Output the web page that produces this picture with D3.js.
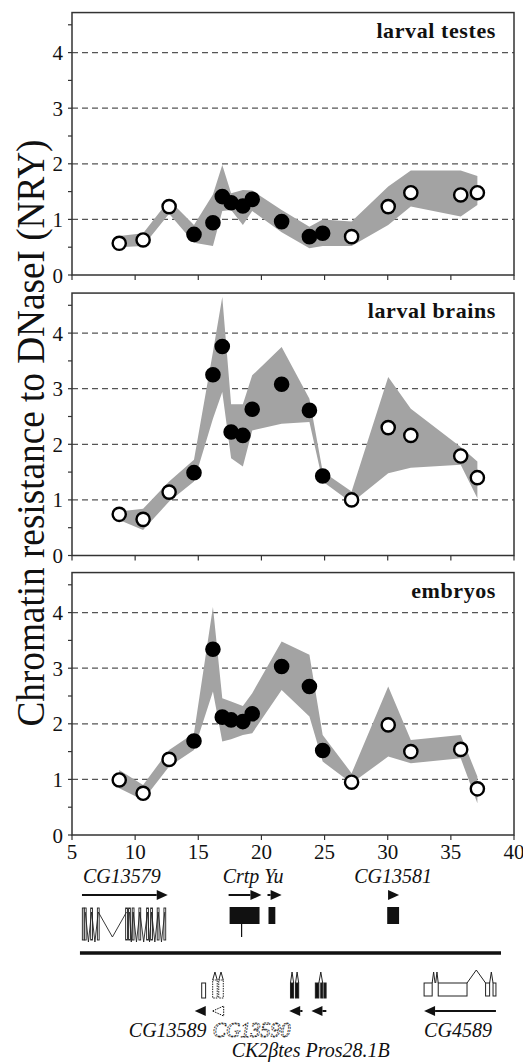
<!DOCTYPE html>
<html>
<head>
<meta charset="utf-8">
<script src="https://cdnjs.cloudflare.com/ajax/libs/d3/7.8.5/d3.min.js"></script>
<style>
  body { margin: 0; background: #fff; }
  svg { display: block; }
  text { font-family: "Liberation Serif", "Times New Roman", serif; fill: #111; }
</style>
</head>
<body>
<svg id="chart" width="523" height="1062"></svg>
<script>
// position along the region (kb)
var positions = [8.74, 10.63, 12.69, 14.66, 16.16, 16.9, 17.6, 18.53, 19.27, 21.6, 23.8, 24.85, 27.14, 30.04, 31.83, 35.78, 37.1];
// 1 = filled marker, 0 = open marker
var filledPoint = [0, 0, 0, 1, 1, 1, 1, 1, 1, 1, 1, 1, 0, 0, 0, 0, 0];

var panelNames = ["larval testes", "larval brains", "embryos"];

var testesMean = [0.57, 0.63, 1.23, 0.73, 0.94, 1.41, 1.30, 1.24, 1.36, 0.96, 0.69, 0.75, 0.69, 1.23, 1.48, 1.44, 1.48];
var testesHigh = [0.70, 0.75, 1.35, 0.90, 1.45, 1.98, 1.47, 1.53, 1.52, 1.17, 0.87, 1.00, 0.96, 1.59, 1.88, 1.88, 1.78];
var testesLow  = [0.50, 0.52, 1.10, 0.58, 0.52, 1.15, 1.17, 0.90, 1.15, 0.77, 0.48, 0.52, 0.52, 0.90, 1.23, 1.05, 1.26];

var brainsMean = [0.74, 0.65, 1.14, 1.49, 3.25, 3.76, 2.22, 2.16, 2.63, 3.08, 2.61, 1.43, 1.00, 2.30, 2.16, 1.79, 1.40];
var brainsHigh = [0.79, 0.84, 1.33, 1.72, 3.66, 4.65, 2.72, 2.72, 3.24, 3.75, 2.82, 1.51, 1.15, 3.21, 2.64, 1.95, 1.69];
var brainsLow  = [0.64, 0.46, 0.97, 1.33, 2.46, 2.94, 1.75, 1.60, 2.25, 2.37, 2.40, 1.33, 0.95, 1.48, 1.58, 1.63, 1.03];

var embryoMean = [0.99, 0.75, 1.36, 1.69, 3.34, 2.12, 2.07, 2.04, 2.18, 3.03, 2.67, 1.52, 0.95, 1.98, 1.50, 1.54, 0.83];
var embryoHigh = [1.17, 0.90, 1.53, 1.83, 4.10, 2.46, 2.40, 2.32, 2.55, 3.48, 3.24, 1.80, 1.11, 2.67, 1.71, 1.80, 1.05];
var embryoLow  = [0.84, 0.63, 1.23, 1.53, 2.58, 1.68, 1.72, 1.80, 1.83, 2.61, 2.13, 1.32, 0.93, 1.41, 1.29, 1.38, 0.57];

var xTicks = [5, 10, 15, 20, 25, 30, 35, 40];
var yTicks = [0, 1, 2, 3, 4];
var yMinorTicks = [0, 0.5, 1, 1.5, 2, 2.5, 3, 3.5, 4, 4.5];

// gene annotation (kb coordinates)
var genesTop = [
  {name: "CG13579", from: 5.79, to: 12.58},
  {name: "Crtp", from: 17.4, to: 20.0},
  {name: "Yu", from: 20.48, to: 21.6},
  {name: "CG13581", from: 29.96, to: 30.9}
];
var genesBottom = [
  {name: "CG13589", from: 15.5, to: 14.72},
  {name: "CG13590", from: 17.08, to: 16.14},
  {name: "CK2btes", from: 23.25, to: 22.2},
  {name: "Pros28.1B", from: 25.14, to: 23.96},
  {name: "CG4589", from: 38.57, to: 32.88}
];
var exonsCG13579 = [5.89, 6.05, 6.55, 7.08, 9.32, 9.55, 9.84, 10.37, 10.98, 11.3, 11.82, 12.35];

var svg = d3.select("#chart");

var x = d3.scaleLinear().domain([5, 40]).range([72, 514]);

var series = [
  {mean: testesMean, high: testesHigh, low: testesLow},
  {mean: brainsMean, high: brainsHigh, low: brainsLow},
  {mean: embryoMean, high: embryoHigh, low: embryoLow}
];
var panelBottoms = [275, 555.5, 835];
var yMax = 4.72, unit = 55.6;

series.forEach(function(s, p) {
  var bottom = panelBottoms[p];
  var y = d3.scaleLinear().domain([0, yMax]).range([bottom, bottom - yMax * unit]);
  var g = svg.append("g");

  // dashed grid
  g.selectAll("line.grid").data(yTicks.slice(1)).enter().append("line")
    .attr("x1", x(5)).attr("x2", x(40))
    .attr("y1", d => y(d)).attr("y2", d => y(d))
    .attr("stroke", "#555").attr("stroke-width", 1.2)
    .attr("stroke-dasharray", "6,4");

  var rows = positions.map((px, i) => ({x: px, m: s.mean[i], hi: s.high[i], lo: s.low[i], f: filledPoint[i]}));

  var area = d3.area().x(d => x(d.x)).y0(d => y(d.lo)).y1(d => y(d.hi));
  g.append("path").datum(rows).attr("d", area).attr("fill", "#a3a3a3");

  g.selectAll("circle").data(rows).enter().append("circle")
    .attr("cx", d => x(d.x)).attr("cy", d => y(d.m)).attr("r", 6.6)
    .attr("fill", d => d.f ? "#000" : "#fff")
    .attr("stroke", "#000").attr("stroke-width", 2.4);

  // frame
  g.append("rect").attr("x", x(5)).attr("y", y(yMax))
    .attr("width", x(40) - x(5)).attr("height", y(0) - y(yMax))
    .attr("fill", "none").attr("stroke", "#333").attr("stroke-width", 1.5);

  // y ticks
  g.selectAll("line.ytick").data(yMinorTicks).enter().append("line")
    .attr("x1", x(5) - 4).attr("x2", x(5))
    .attr("y1", d => y(d)).attr("y2", d => y(d))
    .attr("stroke", "#333").attr("stroke-width", 1.2);
  g.selectAll("text.ylab").data(yTicks).enter().append("text")
    .attr("x", 63).attr("y", d => y(d)).attr("dy", "0.36em")
    .attr("text-anchor", "end").style("font-size", "21px")
    .text(d => d);

  // x ticks
  g.selectAll("line.xtick").data(xTicks).enter().append("line")
    .attr("x1", d => x(d)).attr("x2", d => x(d))
    .attr("y1", y(0)).attr("y2", y(0) + 5)
    .attr("stroke", "#333").attr("stroke-width", 1.2);

  if (p === 2) {
    g.selectAll("text.xlab").data(xTicks).enter().append("text")
      .attr("x", d => x(d)).attr("y", y(0) + 24)
      .attr("text-anchor", "middle").style("font-size", "21px")
      .text(d => d);
  }

  g.append("text").attr("x", 496).attr("y", y(yMax) + 25)
    .attr("text-anchor", "end")
    .style("font-size", "22px").style("font-weight", "bold").style("letter-spacing", "0.6px")
    .text(panelNames[p]);
});

// y axis title
svg.append("text")
  .attr("transform", "translate(44,433) rotate(-90)")
  .attr("text-anchor", "middle")
  .attr("textLength", 587).attr("lengthAdjust", "spacingAndGlyphs")
  .style("font-size", "40px")
  .text("Chromatin resistance to DNaseI (NRY)");

// ---- gene map ----
var gm = svg.append("g");

function arrow(from, to, yy, opts) {
  opts = opts || {};
  var dir = to > from ? 1 : -1;
  var x1 = x(from), x2 = x(to);
  var head = opts.head || 11;
  var g = gm.append("g");
  if (Math.abs(x2 - x1) > head + 1) {
    g.append("line").attr("x1", x1).attr("x2", x2 - dir * head)
      .attr("y1", yy).attr("y2", yy)
      .attr("stroke", "#111").attr("stroke-width", 2)
      .attr("stroke-dasharray", opts.dashed ? "1.5,1.5" : null);
  }
  g.append("path")
    .attr("d", "M" + x2 + "," + yy + "L" + (x2 - dir * head) + "," + (yy - 5) + "L" + (x2 - dir * head) + "," + (yy + 5) + "Z")
    .attr("fill", opts.dashed ? "none" : "#111")
    .attr("stroke", opts.dashed ? "#111" : "none")
    .attr("stroke-dasharray", opts.dashed ? "1.5,1" : null);
}

genesTop.forEach(d => arrow(d.from, d.to, 895));
genesBottom.forEach(d => arrow(d.from, d.to, 1011, {dashed: d.name === "CG13590"}));

// CG13579 gene model
exonsCG13579.forEach(function(e) {
  gm.append("rect").attr("x", x(e) - 0.9).attr("y", 908).attr("width", 1.8).attr("height", 32)
    .attr("fill", "#fff").attr("stroke", "#222").attr("stroke-width", 0.9);
});
d3.pairs(exonsCG13579).forEach(function(pr) {
  var a = x(pr[0]), b = x(pr[1]);
  if (b - a < 3) return;
  gm.append("path").attr("d", "M" + a + ",912L" + ((a + b) / 2) + "," + (b - a > 20 ? 937 : 942) + "L" + b + ",912")
    .attr("fill", "none").attr("stroke", "#222").attr("stroke-width", 0.9);
});

// Crtp, Yu, CG13581
gm.append("rect").attr("x", x(17.48)).attr("y", 907).attr("width", x(19.85) - x(17.48)).attr("height", 17).attr("fill", "#111");
gm.append("line").attr("x1", x(18.43)).attr("x2", x(18.43)).attr("y1", 920).attr("y2", 937).attr("stroke", "#111").attr("stroke-width", 1.2);
gm.append("rect").attr("x", x(20.56)).attr("y", 907).attr("width", x(21.1) - x(20.56)).attr("height", 17).attr("fill", "#111");
gm.append("rect").attr("x", x(29.96)).attr("y", 907).attr("width", x(30.9) - x(29.96)).attr("height", 17).attr("fill", "#111");

// chromosome line
gm.append("line").attr("x1", x(5.63)).attr("x2", x(38.97)).attr("y1", 953).attr("y2", 953)
  .attr("stroke", "#111").attr("stroke-width", 3.5);

// lower strand models
function hat(a, b, yy, top) {
  gm.append("path").attr("d", "M" + x(a) + "," + yy + "L" + ((x(a) + x(b)) / 2) + "," + top + "L" + x(b) + "," + yy)
    .attr("fill", "none").attr("stroke", "#222").attr("stroke-width", 1);
}
function box(a, b, y1, y2, fill, dashed) {
  gm.append("rect").attr("x", x(a)).attr("y", y1).attr("width", Math.max(1, x(b) - x(a))).attr("height", y2 - y1)
    .attr("fill", fill).attr("stroke", "#222").attr("stroke-width", 1)
    .attr("stroke-dasharray", dashed ? "1.5,1" : null);
}
box(15.27, 15.58, 983, 998, "#fff");
box(16.14, 16.5, 980, 998, "#fff", true);
box(16.62, 16.98, 980, 998, "#fff", true);
hat(16.14, 16.5, 980, 972);
hat(16.62, 16.98, 980, 972);
box(22.3, 22.55, 983, 998, "#111");
box(22.7, 22.95, 983, 998, "#111");
hat(22.3, 22.55, 983, 972);
hat(22.7, 22.95, 983, 972);
box(24.27, 24.55, 983, 998, "#111");
box(24.7, 24.85, 983, 998, "#111");
box(24.95, 25.12, 983, 998, "#111");
hat(24.55, 24.85, 983, 972);
box(32.88, 33.52, 983, 996, "#fff");
hat(33.52, 33.75, 983, 972);
hat(33.8, 34.0, 983, 972);
box(34.0, 36.28, 983, 996, "#fff");
hat(36.28, 37.75, 983, 970);
box(37.75, 38.07, 983, 996, "#fff");
hat(38.07, 38.34, 983, 972);
box(38.34, 38.57, 983, 996, "#fff");

// gene labels
var geneLabels = [
  {t: "CG13579", at: 5.87, y: 883, anchor: "start"},
  {t: "Crtp Yu", at: 16.93, y: 883, anchor: "start"},
  {t: "CG13581", at: 27.35, y: 883, anchor: "start"},
  {t: "CG13589", at: 15.66, y: 1037, anchor: "end"},
  {t: "CG13590", at: 16.14, y: 1037, anchor: "start", dashed: true},
  {t: "CG4589", at: 38.25, y: 1037, anchor: "end"},
  {t: "CK2\u03B2tes Pros28.1B", at: 17.64, y: 1057, anchor: "start"}
];
gm.selectAll("text.gene").data(geneLabels).enter().append("text")
  .attr("x", d => x(d.at)).attr("y", d => d.y)
  .attr("text-anchor", d => d.anchor)
  .style("font-size", "20px").style("font-style", "italic")
  .style("fill", d => d.dashed ? "#fff" : "#111")
  .style("stroke", d => d.dashed ? "#222" : "none")
  .style("stroke-width", d => d.dashed ? 0.8 : 0)
  .style("stroke-dasharray", d => d.dashed ? "2,1" : null)
  .text(d => d.t);
</script>
</body>
</html>
